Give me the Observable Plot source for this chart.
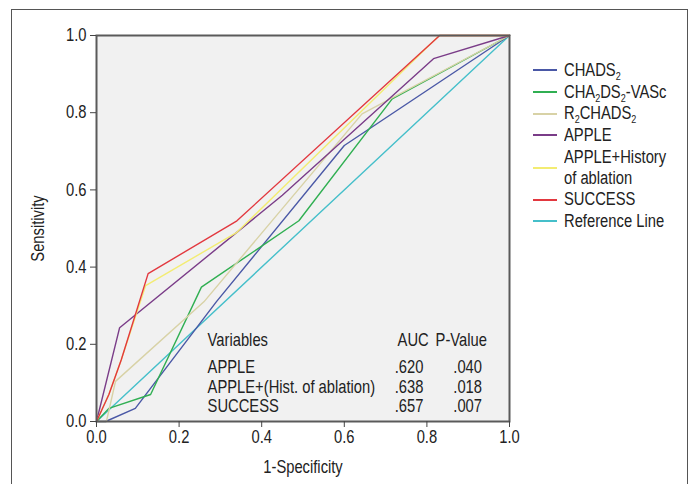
<!DOCTYPE html>
<html>
<head>
<meta charset="utf-8">
<script src="https://cdn.jsdelivr.net/npm/d3@7"></script>
<script src="https://cdn.jsdelivr.net/npm/@observablehq/plot@0.6"></script>
<style>
  html, body { margin: 0; padding: 0; background: #fff; }
  #wrap { position: relative; width: 695px; height: 484px; overflow: hidden;
    font-family: "Liberation Sans", Arial, sans-serif; color: #222; }
  #outer { position: absolute; left: 11px; top: 9px; width: 677px; height: 500px; border: 1px solid #555; box-sizing: border-box; }
  #chart { position: absolute; left: 0; top: 0; }
  #legend { position: absolute; left: 533px; top: 60px; font-size: 18px; line-height: 20.7px; }
  .item { display: flex; align-items: center; margin-bottom: 1px; }
  .swatch { width: 24px; height: 2px; margin-right: 7px; flex: none; }
  .lab { display: inline-block; transform: scaleX(0.82); transform-origin: left center; white-space: nowrap; }
  sub { font-size: 11px; vertical-align: -4px; line-height: 0; }
</style>
</head>
<body>
<div id="wrap">
  <div id="outer"></div>
  <div id="chart"></div>
  <div id="legend"></div>
</div>
<script>
// ---- data ----
const seriesNames = ["CHADS2", "CHA2DS2-VASc", "R2CHADS2", "APPLE", "APPLE+History of ablation", "SUCCESS", "Reference Line"];
const legendLabels = ["CHADS<sub>2</sub>", "CHA<sub>2</sub>DS<sub>2</sub>-VASc", "R<sub>2</sub>CHADS<sub>2</sub>", "APPLE", "APPLE+History<br>of ablation", "SUCCESS", "Reference Line"];
const seriesColors = ["#4a58a6", "#30af52", "#d8d2a6", "#7a3c88", "#f3ec72", "#e2383f", "#45bfca"];

const fprCHADS2 = [0, 0.022, 0.094, 0.29, 0.6, 1];
const tprCHADS2 = [0, 0, 0.034, 0.31, 0.715, 1];
const fprCHA2DS2 = [0, 0.03, 0.131, 0.254, 0.49, 0.716, 1];
const tprCHA2DS2 = [0, 0.034, 0.07, 0.348, 0.52, 0.836, 1];
const fprR2CHADS2 = [0, 0.024, 0.046, 0.26, 0.643, 1];
const tprR2CHADS2 = [0, 0, 0.104, 0.31, 0.797, 1];
const fprAPPLE = [0, 0.056, 0.45, 0.816, 1];
const tprAPPLE = [0, 0.243, 0.586, 0.94, 1];
const fprAPPLEHist = [0, 0.03, 0.06, 0.119, 0.34, 0.83, 1];
const tprAPPLEHist = [0, 0.07, 0.16, 0.352, 0.49, 1, 1];
const fprSUCCESS = [0, 0.03, 0.06, 0.125, 0.34, 0.831, 1];
const tprSUCCESS = [0, 0.07, 0.16, 0.383, 0.52, 1, 1];
const fprRef = [0, 1];
const tprRef = [0, 1];

const tickValues = [0, 0.2, 0.4, 0.6, 0.8, 1.0];

const tableVars = ["APPLE", "APPLE+(Hist. of ablation)", "SUCCESS"];
const tableAUC = [".620", ".638", ".657"];
const tableP = [".040", ".018", ".007"];
const tableHeaders = ["Variables", "AUC", "P-Value"];

// ---- build tidy table ----
const xs = [fprCHADS2, fprCHA2DS2, fprR2CHADS2, fprAPPLE, fprAPPLEHist, fprSUCCESS, fprRef];
const ys = [tprCHADS2, tprCHA2DS2, tprR2CHADS2, tprAPPLE, tprAPPLEHist, tprSUCCESS, tprRef];
const drawOrder = [6, 0, 1, 2, 3, 4, 5];
const rows = [];
for (const i of drawOrder) {
  xs[i].forEach((x, j) => rows.push({series: seriesNames[i], x, y: ys[i][j]}));
}
const tableRows = tableVars.map((v, i) => ({v, auc: tableAUC[i], p: tableP[i], row: i}));
const rowY = [0.140, 0.090, 0.040];

const font = '"Liberation Sans", Arial, sans-serif';
const squeeze = 0.82;

const chart = Plot.plot({
  width: 695,
  height: 484,
  marginLeft: 96,
  marginRight: 186,
  marginTop: 35,
  marginBottom: 63,
  style: {fontFamily: font, fontSize: "18px", color: "#222", background: "transparent"},
  x: {domain: [0, 1], ticks: tickValues, tickFormat: d3.format(".1f")},
  y: {domain: [0, 1], ticks: tickValues, tickFormat: d3.format(".1f")},
  color: {domain: seriesNames, range: seriesColors},
  marks: [
    Plot.frame({fill: "#f1f1f1"}),
    Plot.line(rows, {x: "x", y: "y", z: "series", stroke: "series", strokeWidth: 1.4}),
    Plot.frame({stroke: "#5a5a5a", strokeWidth: 2}),
    Plot.axisX({ticks: tickValues, tickFormat: d3.format(".1f"), tickSize: 6, tickPadding: 3, stroke: "#444",
      label: "1-Specificity", labelAnchor: "center", labelArrow: "none", labelOffset: 51}),
    Plot.axisY({ticks: tickValues, tickFormat: d3.format(".1f"), tickSize: 6, tickPadding: 4, stroke: "#444",
      label: "Sensitivity", labelAnchor: "center", labelArrow: "none", labelOffset: 65}),
    Plot.text([tableHeaders[0]], {x: 0.269, y: 0.21, text: d => d, textAnchor: "start", fontSize: 18}),
    Plot.text([tableHeaders[1]], {x: 0.729, y: 0.21, text: d => d, textAnchor: "start", fontSize: 18}),
    Plot.text([tableHeaders[2]], {x: 0.821, y: 0.21, text: d => d, textAnchor: "start", fontSize: 18}),
    Plot.text(tableRows, {x: 0.269, y: d => rowY[d.row], text: "v", textAnchor: "start", fontSize: 18}),
    Plot.text(tableRows, {x: 0.722, y: d => rowY[d.row], text: "auc", textAnchor: "start", fontSize: 18}),
    Plot.text(tableRows, {x: 0.864, y: d => rowY[d.row], text: "p", textAnchor: "start", fontSize: 18})
  ]
});
document.getElementById("chart").appendChild(chart);

// condensed look: squeeze every text horizontally about its anchor point
chart.querySelectorAll("text").forEach(t => {
  const b = t.getBBox();
  if (!b.width) return;
  const anchor = getComputedStyle(t).textAnchor;
  const ax = anchor === "end" ? b.x + b.width : anchor === "middle" ? b.x + b.width / 2 : b.x;
  const prev = t.getAttribute("transform") || "";
  t.setAttribute("transform", `${prev} translate(${ax},0) scale(${squeeze},1) translate(${-ax},0)`.trim());
});

// ---- legend ----
const legend = document.getElementById("legend");
seriesNames.forEach((name, i) => {
  const item = document.createElement("div");
  item.className = "item";
  const sw = document.createElement("span");
  sw.className = "swatch";
  sw.style.background = seriesColors[i];
  const lab = document.createElement("span");
  lab.className = "lab";
  lab.innerHTML = legendLabels[i];
  item.appendChild(sw);
  item.appendChild(lab);
  legend.appendChild(item);
});
</script>
</body>
</html>
